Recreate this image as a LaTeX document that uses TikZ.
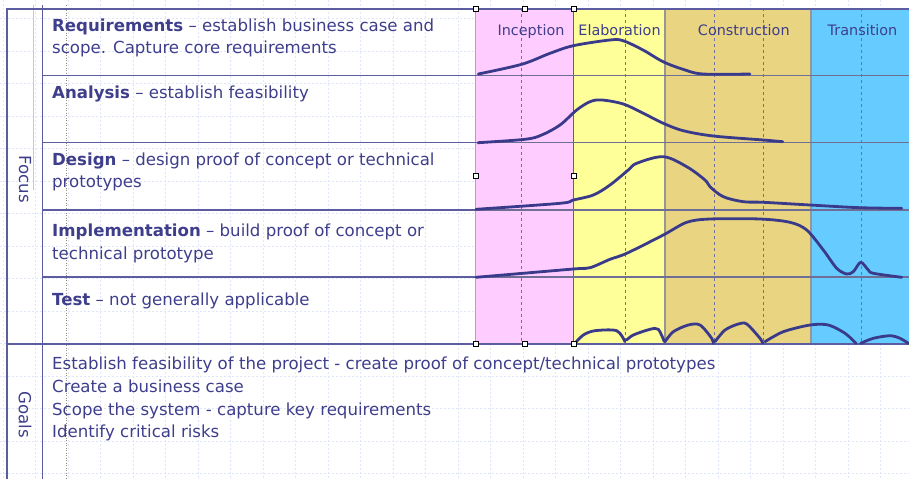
\documentclass[tikz,border=0pt]{standalone}
\usepackage{fontspec}
\setmainfont{DejaVu Sans}
\definecolor{txtc}{RGB}{62,62,140}
\definecolor{curvec}{RGB}{58,58,138}
\definecolor{linec}{RGB}{92,92,160}
\definecolor{rowc}{RGB}{110,110,150}
\definecolor{gridc}{RGB}{224,230,250}
\definecolor{pinkc}{RGB}{255,204,255}
\definecolor{yellowc}{RGB}{255,255,153}
\definecolor{tanc}{RGB}{233,212,130}
\definecolor{bluec}{RGB}{102,204,255}
\definecolor{sepc}{RGB}{150,150,150}
\definecolor{dashc}{RGB}{112,112,165}
\definecolor{dotc}{RGB}{150,140,120}
\definecolor{lightbl}{RGB}{184,200,248}
\begin{document}
\begin{tikzpicture}[x=1pt,y=-1pt,
  txt/.style={anchor=base west, inner sep=0pt, text=txtc, font=\fontsize{16.6}{22}\selectfont},
  hdr/.style={anchor=base, inner sep=0pt, text=txtc, font=\fontsize{14.4}{20}\selectfont},
  side/.style={inner sep=0pt, text=txtc, rotate=-90, font=\fontsize{16.6}{22}\selectfont},
  curve/.style={draw=curvec, line width=2.8pt, line join=round, line cap=round},
  handle/.style={draw=black, fill=white, line width=0.6pt, minimum size=5pt, inner sep=0pt, rectangle},
  gridline/.style={draw=gridc, line width=0.7pt, dash pattern=on 2pt off 2pt},
  phasedash/.style={draw=dashc, line width=0.9pt, dash pattern=on 3pt off 3pt},
  frame/.style={draw=linec, line width=1.1pt}]
\useasboundingbox (0,0) rectangle (909,479);
\fill[white] (0,0) rectangle (909,479);
% background grid
\foreach \i in {0,...,27} \draw[gridline] ({3.3+32.5*\i},0) -- ++(0,479);
\foreach \j in {0,...,14} \draw[gridline] (0,{18.5+32.5*\j}) -- ++(909,0);
% phase columns
\fill[pinkc] (475.7,8.3) rectangle (573.3,344);
\fill[yellowc] (573.3,8.3) rectangle (665,344);
\fill[tanc] (665,8.3) rectangle (811,344);
\fill[bluec] (811,8.3) rectangle (909,344);
\foreach \x in {521.7,625.7,714.3,763.3,861} \draw[phasedash] (\x,8.3) -- (\x,344);
\draw[sepc, line width=1.2pt] (665,8.3) -- (665,344);
\draw[sepc, line width=1.2pt] (811,8.3) -- (811,344);
\draw[linec, line width=0.9pt] (573.3,8.3) -- (573.3,344);
\draw[draw={rgb,255:red,176;green,160;blue,210}, line width=1.5pt] (475.7,8.3) -- (475.7,344);
% left guides
\draw[lightbl, line width=1.2pt] (33.3,5) -- (33.3,190);
\draw[dotc, line width=0.8pt, dash pattern=on 1pt off 1.5pt] (66.7,5) -- (66.7,479);
% frames and row lines
\draw[frame] (7,479) -- (7,9) -- (909,9);
\draw[frame] (42.3,5) -- (42.3,479);
\draw[frame] (7,344) -- (909,344);
\foreach \y in {75.5,142.5,210,277} {
  \draw[linec, line width=1.1pt] (42.3,\y) -- (475.7,\y);
  \draw[rowc, line width=1.1pt] (475.7,\y) -- (909,\y);
}
% side labels
\node[side] (focus) at (25,179) {Focus};
\node[side] (goals) at (25,415) {Goals};
% phase headers
\node[hdr] (inc) at (531,35) {Inception};
\node[hdr] (ela) at (619.5,35) {Elaboration};
\node[hdr] (con) at (743.8,35) {Construction};
\node[hdr] (tra) at (862.5,35) {Transition};
% row texts
\node[txt] (req1) at (52,31) {\textbf{Requirements} – establish business case and};
\node[txt] (req2) at (52,53) {scope. Capture core requirements};
\node[txt] (ana1) at (52,98.3) {\textbf{Analysis} – establish feasibility};
\node[txt] (des1) at (52,165.7) {\textbf{Design} – design proof of concept or technical};
\node[txt] (des2) at (52,187) {prototypes};
\node[txt] (imp1) at (52,236.7) {\textbf{Implementation} – build proof of concept or};
\node[txt] (imp2) at (52,259.3) {technical prototype};
\node[txt] (tst1) at (52,305) {\textbf{Test} – not generally applicable};
% goals
\node[txt] (g1) at (52,369) {Establish feasibility of the project - create proof of concept/technical prototypes};
\node[txt] (g2) at (52,392) {Create a business case};
\node[txt] (g3) at (52,415) {Scope the system - capture key requirements};
\node[txt] (g4) at (52,437.5) {Identify critical risks};
% curves
\draw[curve] plot[smooth, tension=0.55] coordinates {(478.3,74) (521.7,64.3) (550,53.3) (573.3,45.7) (610,40) (623,40.7) (643,50) (663,61.7) (683,69.3) (703,74) (750,74)};
\draw[curve] plot[smooth, tension=0.55] coordinates {(478,142.7) (525,139.3) (541.7,135) (560,125) (576.7,110) (590,101.7) (601.7,100) (623.3,104) (643.3,113.3) (663.3,123.3) (683.3,130.7) (713.3,136) (763.3,140) (782.7,141.7)};
\draw[curve] plot[smooth, tension=0.55] coordinates {(476,209.3) (560,203.3) (573.3,200) (593.3,195) (610,185) (628.3,170) (636.7,163.3) (663.3,156.7) (686.7,166.7) (705,180) (710,186.7) (723.3,196.7) (743.3,201.7) (763.3,202.3) (810,205) (860,207.7) (901.7,208.3)};
\draw[curve] plot[smooth, tension=0.5] coordinates {(476,277.3) (573.3,269) (590,267.7) (610,259.3) (626.7,253.3) (663.3,235) (686.7,222.3) (710,219) (760,219) (790,222.3) (806.7,230) (823.3,250) (836.7,268.3) (846.7,274) (853.3,271.7) (860.7,262.3) (868.3,270) (873.3,273.3) (901.7,277.3)};
% test bumps
\draw[curve] plot[smooth, tension=0.5] coordinates {(574.3,344) (583.3,335) (595,330.7) (616.7,330.7) (625,341.7)};
\draw[curve] plot[smooth, tension=0.5] coordinates {(626.7,340) (633.3,335) (650,329.3) (658.3,329.3) (664.3,341.7)};
\draw[curve] plot[smooth, tension=0.5] coordinates {(665,341.7) (673.3,331.7) (688.3,325) (700,325) (711.7,338.3) (713.3,343.3)};
\draw[curve] plot[smooth, tension=0.5] coordinates {(715,341.7) (725,330) (738.3,324) (746.7,324) (760,338.3) (762.7,343.3)};
\draw[curve] plot[smooth, tension=0.5] coordinates {(765,341.7) (783.3,331.7) (810,325) (828.3,325) (845,333.3) (856,343.3)};
\draw[curve] plot[smooth, tension=0.5] coordinates {(860.7,343.3) (873.3,338.3) (890,335.7) (900,338.3) (908.3,343.3)};
% selection handles
\foreach \p/\n in {{(475.7,8.3)}/h1,{(525,8.3)}/h2,{(573.3,8.3)}/h3,{(475.7,176)}/h4,{(573.3,176)}/h5,{(475.7,344)}/h6,{(525,344)}/h7,{(573.3,344)}/h8}
  \node[handle] (\n) at \p {};
\end{tikzpicture}
\end{document}
